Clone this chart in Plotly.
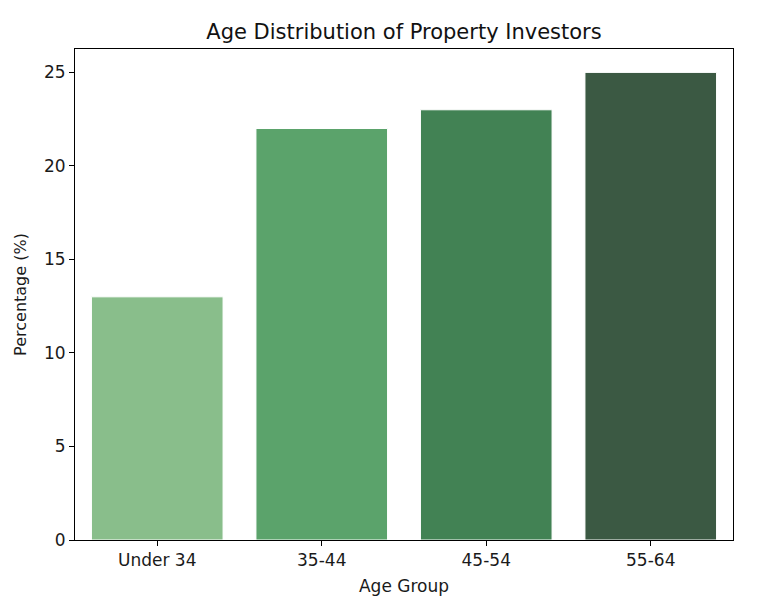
import plotly.graph_objects as go

categories = ["Under 34", "35-44", "45-54", "55-64"]
percentages = [13, 22, 23, 25]
colors = ["#89be8b", "#5ba36b", "#428254", "#3b5943"]
y_ticks = [0, 5, 10, 15, 20, 25]

fig = go.Figure()
fig.add_trace(go.Bar(
    x=categories, y=percentages, width=0.8,
    marker=dict(color=colors, line=dict(color="white", width=1)),
))

font = "DejaVu Sans, sans-serif"
# page body adds an 8px offset; figure sized so the plot box lands at the reference spot
fig.update_layout(
    width=749, height=596,
    margin=dict(l=67, r=24, t=41, b=64),
    paper_bgcolor="white", plot_bgcolor="white",
    showlegend=False,
    font=dict(family=font, size=17, color="#1a1a1a"),
    title=dict(text="Age Distribution of Property Investors", x=0.5, xanchor="center",
               xref="paper",
               y=1 - 24/596, yanchor="middle", font=dict(size=21, color="#111")),
)
fig.update_xaxes(
    range=[-0.5, 3.5], showline=True, linecolor="black", linewidth=1, mirror=True,
    ticks="outside", ticklen=5, tickcolor="black", showgrid=False,
    title=dict(text="Age Group", standoff=10, font=dict(size=17)),
)
fig.update_yaxes(
    range=[0, 26.25], tickvals=y_ticks, showline=True, linecolor="black", linewidth=1, mirror=True,
    ticks="outside", ticklen=5, tickcolor="black", showgrid=False, zeroline=False,
    title=dict(text="Percentage (%)", standoff=13, font=dict(size=16)),
)
fig.write_html("out.html")
